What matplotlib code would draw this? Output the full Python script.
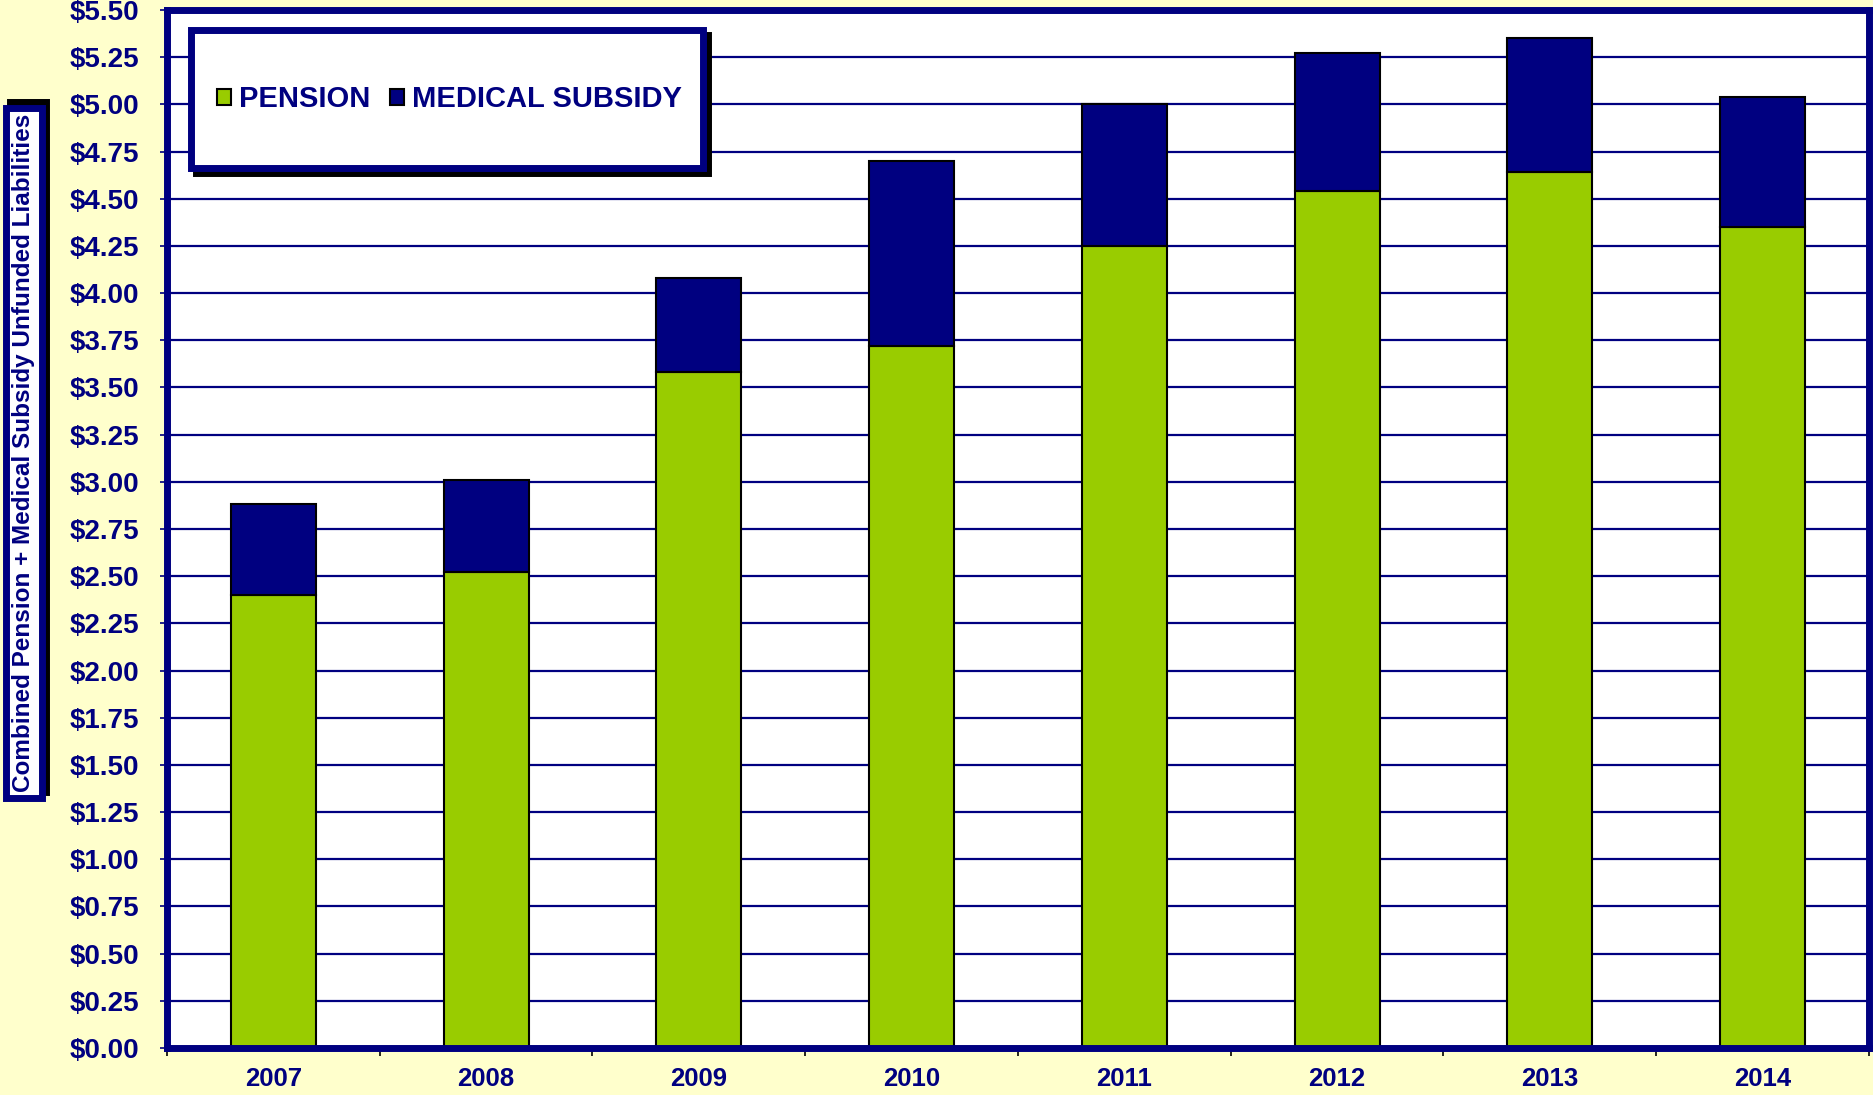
import matplotlib
matplotlib.use("Agg")
import matplotlib.pyplot as plt
from matplotlib.patches import Rectangle
from matplotlib.ticker import FuncFormatter, MultipleLocator
import numpy as np

# values in billions
years = ["2007", "2008", "2009", "2010", "2011", "2012", "2013", "2014"]
pension = [2.40, 2.52, 3.58, 3.72, 4.25, 4.54, 4.64, 4.35]
medical = [0.48, 0.49, 0.50, 0.98, 0.75, 0.73, 0.71, 0.69]

navy = "#000080"
green = "#99CC00"
bg = "#FFFFCC"

plt.rcParams["font.family"] = ["Liberation Sans", "DejaVu Sans"]
plt.rcParams["font.weight"] = "bold"

W, H = 1874, 1095
fig = plt.figure(figsize=(W / 100, H / 100), dpi=100, facecolor=bg)
ax = fig.add_axes([167 / W, 47 / H, 1702 / W, 1038 / H])
ax.set_facecolor("white")

x = np.arange(len(years))
ax.bar(x, pension, width=0.4, color=green, edgecolor="black", linewidth=1.5,
       label="PENSION", zorder=3)
ax.bar(x, medical, width=0.4, bottom=pension, color=navy, edgecolor="black",
       linewidth=1.5, label="MEDICAL SUBSIDY", zorder=3)

ax.set_xlim(-0.5, len(years) - 0.5)
ax.set_ylim(0, 5.5)
ax.yaxis.set_major_locator(MultipleLocator(0.25))
ax.yaxis.set_major_formatter(FuncFormatter(lambda v, p: f"${v:.2f}"))
ax.grid(axis="y", color=navy, linewidth=1.6, zorder=1)
ax.set_axisbelow(True)

ax.set_xticks(x)
ax.set_xticklabels(years)
ax.set_xticks(np.arange(-0.5, len(years)), minor=True)
ax.tick_params(axis="x", which="major", length=0, pad=14, labelsize=18.5,
               labelcolor=navy)
ax.tick_params(axis="x", which="minor", length=6, width=1.2, color="black",
               direction="out")
ax.tick_params(axis="y", length=5, width=1.2, color=navy, pad=15,
               labelsize=20, labelcolor=navy)
for lab in ax.get_xticklabels() + ax.get_yticklabels():
    lab.set_fontweight("bold")

for s in ax.spines.values():
    s.set_color(navy)
    s.set_linewidth(5)
    s.set_zorder(4)

# legend box with black shadow
tf = fig.transFigure
fig.add_artist(Rectangle((196 / W, (H - 173) / H), 512 / W, 138 / H,
                         transform=tf, facecolor="black", edgecolor="black",
                         linewidth=5, zorder=5))
fig.add_artist(Rectangle((191 / W, (H - 168) / H), 512 / W, 138 / H,
                         transform=tf, facecolor="white", edgecolor=navy,
                         linewidth=5, zorder=6))
handles, labels = ax.get_legend_handles_labels()
leg = fig.legend(handles, labels, loc="center left",
                 bbox_to_anchor=(202 / W, (H - 99) / H),
                 bbox_transform=tf, ncol=2, frameon=False, borderpad=0,
                 handlelength=0.48, handleheight=0.48, handletextpad=0.3,
                 columnspacing=0.65, prop={"size": 21, "weight": "bold"})
for t in leg.get_texts():
    t.set_color(navy)
leg.set_zorder(7)

# y label in a framed box with shadow
fig.add_artist(Rectangle((10 / W, (H - 792) / H), 36 / W, 690 / H,
                         transform=tf, facecolor="black", edgecolor="black",
                         linewidth=5, zorder=5))
fig.add_artist(Rectangle((6 / W, (H - 798) / H), 36 / W, 690 / H,
                         transform=tf, facecolor="white", edgecolor=navy,
                         linewidth=5, zorder=6))
fig.text(24 / W, (H - 453) / H,
         "Combined Pension + Medical Subsidy Unfunded Liabilities",
         rotation=90, ha="center", va="center", fontsize=17.5,
         fontweight="bold", color=navy, zorder=7)

fig.savefig("out.png", dpi=100, facecolor=bg)
